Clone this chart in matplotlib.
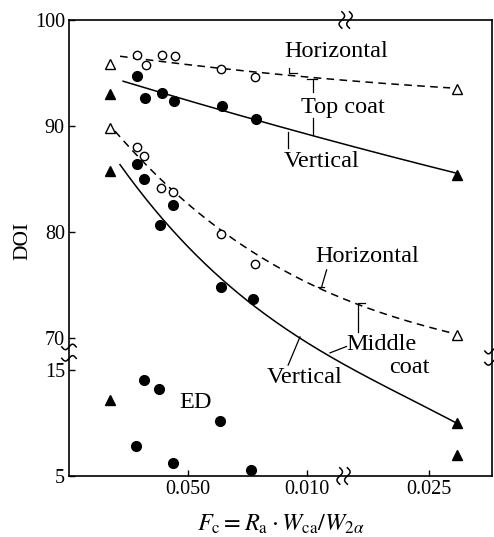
'''DOI of top coat, middle coat and ED film against Fc.'''

import numpy as np
import matplotlib
matplotlib.use('Agg')
import matplotlib.pyplot as plt

# samples (Fc, DOI)
fc_top_h = [0.00285, 0.00323, 0.00389, 0.00445, 0.00638, 0.0078]
doi_top_h = [96.7, 95.8, 96.7, 96.6, 95.35, 94.6]
fc_top_v = [0.00284, 0.0032, 0.0039, 0.00439, 0.00643, 0.00785]
doi_top_v = [94.75, 92.6, 93.15, 92.4, 91.85, 90.65]
fc_mid_h = [0.00284, 0.00315, 0.00386, 0.00438, 0.00637, 0.0078]
doi_mid_h = [88.05, 87.2, 84.15, 83.75, 79.8, 76.95]
fc_mid_v = [0.00284, 0.00315, 0.00382, 0.00438, 0.00639, 0.00772]
doi_mid_v = [86.4, 85.05, 80.7, 82.6, 74.85, 73.7]
fc_ed = [0.00281, 0.00316, 0.00379, 0.00438, 0.00634, 0.00764]
doi_ed = [7.8, 14.05, 13.2, 6.2, 10.15, 5.6]

# triangles at both ends
tri_open_fc = [0.0017, 0.0262, 0.0017, 0.0262]
tri_open_doi = [95.85, 93.45, 89.8, 70.3]
tri_fill_fc = [0.0017, 0.0262, 0.0017, 0.0262, 0.0017, 0.0262]
tri_fill_doi = [93.0, 85.4, 85.75, 10.0, 12.2, 7.0]

# trend curves, nodes
curve_top_h_fc = [0.00214, 0.00638, 0.01137, 0.02589]
curve_top_h_doi = [96.6, 95.38, 94.4, 93.58]
curve_top_v_fc = [0.00227, 0.0055, 0.01024, 0.0261]
curve_top_v_doi = [94.27, 91.98, 89.15, 85.57]
curve_mid_h_fc = [0.00193, 0.00319, 0.00634, 0.01053, 0.026]
curve_mid_h_doi = [89.15, 87.1, 79.8, 74.84, 70.44]
curve_mid_v_fc = [0.00214, 0.00495, 0.00747, 0.00969, 0.02253, 0.02622]
curve_mid_v_doi = [86.48, 78.3, 73.9, 70.12, 13.96, 9.98]

xtick_vals = [0.005, 0.010, 0.025]
xtick_labels = ['0.050', '0.010', '0.025']
ytick_vals = [100, 90, 80, 70, 15, 5]
ytick_labels = ['100', '90', '80', '70', '15', '5']

# both axes are broken
X_BREAK, X_SHIFT = 0.012, 0.0099
Y_BREAK, Y_SHIFT = 40, 52


def xpos(x):
    x = np.asarray(x, dtype=float)
    return np.where(x > X_BREAK, x - X_SHIFT, x)


def ypos(y):
    y = np.asarray(y, dtype=float)
    return np.where(y < Y_BREAK, y + Y_SHIFT, y)


plt.rcParams['font.family'] = 'Liberation Serif'
plt.rcParams['mathtext.fontset'] = 'stix'

fig = plt.figure(figsize=(4.94, 5.37), dpi=100)
ax = fig.add_axes([0.1397, 0.1136, 0.8563, 0.8492])


def trend(fc, doi, deg, ls):
    px, py = xpos(fc), ypos(doi)
    c = np.polyfit(px, py, deg)
    xs = np.linspace(px[0], px[-1], 200)
    line, = ax.plot(xs, np.polyval(c, xs), color='k', lw=1.1, ls=ls)
    if ls == '--':
        line.set_dashes((5, 3.5))


trend(curve_top_h_fc, curve_top_h_doi, 2, '--')
trend(curve_top_v_fc, curve_top_v_doi, 2, '-')
trend(curve_mid_h_fc, curve_mid_h_doi, 3, '--')
trend(curve_mid_v_fc, curve_mid_v_doi, 3, '-')

open_kw = dict(ls='none', marker='o', ms=6, mfc='white', mec='k', mew=1.0)
fill_kw = dict(ls='none', marker='o', ms=7, color='k')
ax.plot(xpos(fc_top_h), ypos(doi_top_h), **open_kw)
ax.plot(xpos(fc_mid_h), ypos(doi_mid_h), **open_kw)
ax.plot(xpos(fc_top_v), ypos(doi_top_v), **fill_kw)
ax.plot(xpos(fc_mid_v), ypos(doi_mid_v), **fill_kw)
ax.plot(xpos(fc_ed), ypos(doi_ed), **fill_kw)
ax.plot(xpos(tri_open_fc), ypos(tri_open_doi), ls='none', marker='^', ms=7.5,
        mfc='white', mec='k', mew=1.0)
ax.plot(xpos(tri_fill_fc), ypos(tri_fill_doi), ls='none', marker='^', ms=7.5,
        color='k')

ax.set_xlim(0, 0.01775)
ax.set_ylim(57, 100)
ax.set_xticks(xpos(xtick_vals))
ax.set_xticklabels(xtick_labels)
ax.set_yticks(ypos(ytick_vals))
ax.set_yticklabels(ytick_labels)
ax.tick_params(direction='in', length=4, width=1, labelsize=14.5, pad=3)
for s in ax.spines.values():
    s.set_linewidth(1.2)

ax.set_ylabel('DOI', fontsize=15.5)
ax.yaxis.set_label_coords(-0.087, 0.515)
ax.set_xlabel(r'$F_{\rm c} = R_{\rm a}\cdot W_{\rm ca}/W_{2\alpha}$',
              fontsize=17.5, labelpad=10)

# labels
tk = dict(transform=ax.transAxes, ha='center', va='center', fontsize=17.5)
ax.text(0.631, 0.930, 'Horizontal', **tk)
ax.text(0.648, 0.807, 'Top coat', **tk)
ax.text(0.596, 0.689, 'Vertical', **tk)
ax.text(0.704, 0.482, 'Horizontal', **tk)
ax.text(0.738, 0.289, 'Middle', **tk)
ax.text(0.804, 0.237, 'coat', **tk)
ax.text(0.556, 0.217, 'Vertical', **tk)
ax.text(0.298, 0.162, 'ED', **tk)

# leader lines
leaders = [
    [(0.520, 0.894), (0.520, 0.883), (0.538, 0.883)],
    [(0.562, 0.871), (0.586, 0.871)],
    [(0.577, 0.871), (0.577, 0.842)],
    [(0.577, 0.785), (0.577, 0.748)],
    [(0.518, 0.719), (0.518, 0.755)],
    [(0.609, 0.452), (0.597, 0.414)],
    [(0.589, 0.414), (0.603, 0.414)],
    [(0.684, 0.316), (0.684, 0.379), (0.700, 0.379)],
    [(0.656, 0.284), (0.617, 0.270)],
    [(0.518, 0.243), (0.546, 0.305)],
]
for pts in leaders:
    xs, ys = zip(*pts)
    ax.plot(xs, ys, color='k', lw=0.9, transform=ax.transAxes, clip_on=False)


# break marks on the frame
def squiggle(xc, yc, vertical):
    t = np.linspace(-1, 1, 30)
    if vertical:
        xs = xc + 0.0065 * np.sin(np.pi * t)
        ys = yc + 0.018 * t
    else:
        xs = xc + 0.017 * t
        ys = yc + 0.006 * np.sin(np.pi * t)
    ax.plot(xs, ys, color='k', lw=1.1, transform=ax.transAxes, clip_on=False)


for xc in (0.645, 0.663):
    squiggle(xc, 1.0, True)
for xc in (0.640, 0.658):
    squiggle(xc, 0.0, True)
for yc in (0.283, 0.258):
    squiggle(0.0, yc, False)
for yc in (0.274, 0.249):
    squiggle(1.0, yc, False)

fig.savefig('out.png', dpi=100)
